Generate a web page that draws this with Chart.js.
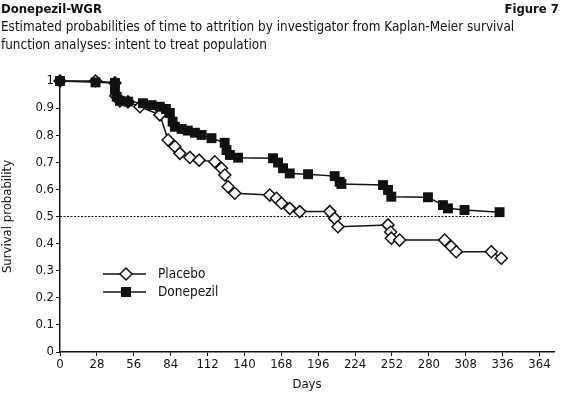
<!DOCTYPE html>
<html>
<head>
<meta charset="utf-8">
<script src="https://cdn.jsdelivr.net/npm/chart.js@4.4.1/dist/chart.umd.min.js"></script>
<style>
  html, body { margin: 0; padding: 0; background: #fff; }
  #wrap { position: relative; width: 562px; height: 393px; overflow: hidden; }
  #wrap canvas { position: absolute; left: 0; top: 0; }
  .hd { position: absolute; font-family: 'Liberation Sans Narrow', 'DejaVu Sans Condensed', sans-serif; color: #111; white-space: nowrap; }
  #t1 { left: 1px; top: 1px; font-size: 13px; font-weight: bold; }
  #t2 { right: 3px; top: 1px; font-size: 13px; font-weight: bold; }
  #sub { left: 1px; top: 18px; font-size: 13.4px; line-height: 18px; }
</style>
</head>
<body>
<div id="wrap">
  <canvas id="c" width="562" height="393"></canvas>
  <div class="hd" id="t1">Donepezil-WGR</div>
  <div class="hd" id="t2">Figure 7</div>
  <div class="hd" id="sub">Estimated probabilities of time to attrition by investigator from Kaplan-Meier survival<br>function analyses: intent to treat population</div>
</div>
<script>
// values
var donepezilDays = [0, 27, 41.7, 41.7, 43, 45.5, 51.8, 63, 69.5, 75.8, 80.4, 83.4, 85.5, 87.2, 92.3, 97, 102.4, 107.5, 115, 125, 126.4, 129, 135.2, 161.7, 165.5, 169.3, 174.4, 188.3, 208.5, 212.3, 213.6, 245.2, 249, 251.5, 279.3, 290.7, 294.5, 307.1, 333.7];
var donepezilSurv = [1, 0.995, 0.993, 0.967, 0.942, 0.927, 0.924, 0.918, 0.911, 0.905, 0.897, 0.882, 0.85, 0.831, 0.823, 0.817, 0.809, 0.801, 0.789, 0.772, 0.745, 0.727, 0.717, 0.715, 0.699, 0.678, 0.659, 0.656, 0.649, 0.628, 0.62, 0.616, 0.598, 0.573, 0.571, 0.542, 0.53, 0.524, 0.516];

var placeboDays = [0, 27, 41.7, 42.5, 45.5, 51.6, 60.7, 75.8, 82.1, 87.2, 91, 98.6, 105.6, 117.5, 122.6, 125.1, 127.6, 132.7, 159.2, 164.3, 168.1, 174.4, 182, 204.8, 208.5, 211, 249, 251, 251.5, 257.8, 292, 297, 300.8, 327.4, 335];
var placeboSurv = [1, 1, 0.993, 0.945, 0.926, 0.923, 0.905, 0.875, 0.782, 0.758, 0.733, 0.718, 0.708, 0.702, 0.678, 0.653, 0.61, 0.586, 0.579, 0.567, 0.549, 0.53, 0.518, 0.518, 0.493, 0.462, 0.469, 0.443, 0.42, 0.413, 0.413, 0.389, 0.37, 0.37, 0.346];

var medianLine = [[0, 0.5], [337, 0.5]];
var xTicks = [0, 28, 56, 84, 112, 140, 168, 196, 224, 252, 280, 308, 336, 364];
var seriesNames = ['Placebo', 'Donepezil'];

var FONT = "'Liberation Sans Narrow', 'DejaVu Sans Condensed', sans-serif";

function toPoints(xs, ys) {
  return xs.map(function (x, i) { return { x: x, y: ys[i] }; });
}

// legend drawn inside the plot, like the printed figure
var insideLegend = {
  id: 'insideLegend',
  afterDatasetsDraw: function (chart) {
    var ctx = chart.ctx;
    var rows = [{ y: 274, style: 'diamond' }, { y: 292, style: 'square' }];
    ctx.save();
    rows.forEach(function (r, i) {
      ctx.strokeStyle = '#111';
      ctx.lineWidth = 1.5;
      ctx.beginPath();
      ctx.moveTo(103, r.y);
      ctx.lineTo(146, r.y);
      ctx.stroke();
      if (r.style === 'diamond') {
        ctx.fillStyle = '#fff';
        ctx.beginPath();
        ctx.moveTo(126 - 6, r.y);
        ctx.lineTo(126, r.y - 6);
        ctx.lineTo(126 + 6, r.y);
        ctx.lineTo(126, r.y + 6);
        ctx.closePath();
        ctx.fill();
        ctx.stroke();
      } else {
        ctx.fillStyle = '#111';
        ctx.fillRect(121, r.y - 5, 10, 10);
      }
      ctx.fillStyle = '#111';
      ctx.font = '13.5px ' + FONT;
      ctx.textBaseline = 'middle';
      ctx.fillText(seriesNames[i], 158, r.y);
    });
    ctx.restore();
  }
};

new Chart(document.getElementById('c'), {
  type: 'scatter',
  data: {
    datasets: [{
      label: 'Donepezil',
      data: toPoints(donepezilDays, donepezilSurv),
      showLine: true,
      borderColor: '#111',
      borderWidth: 1.5,
      pointStyle: 'rect',
      pointRadius: 7,
      pointBackgroundColor: '#111',
      pointBorderColor: '#111',
      pointBorderWidth: 0,
      clip: false,
      order: 1
    }, {
      label: 'Placebo',
      data: toPoints(placeboDays, placeboSurv),
      showLine: true,
      borderColor: '#111',
      borderWidth: 1.5,
      pointStyle: 'rectRot',
      pointRadius: 6,
      pointBackgroundColor: '#fff',
      pointBorderColor: '#111',
      pointBorderWidth: 1.5,
      clip: false,
      order: 2
    }, {
      label: 'median',
      data: medianLine.map(function (p) { return { x: p[0], y: p[1] }; }),
      showLine: true,
      borderColor: '#111',
      borderWidth: 1.2,
      borderDash: [2, 1.5],
      pointRadius: 0,
      order: 3
    }]
  },
  options: {
    responsive: false,
    animation: false,
    layout: { padding: { top: 81, right: 8, bottom: 0, left: 0 } },
    plugins: { legend: { display: false }, tooltip: { enabled: false } },
    scales: {
      x: {
        type: 'linear',
        min: 0,
        max: 375,
        afterBuildTicks: function (s) { s.ticks = xTicks.map(function (v) { return { value: v }; }); },
        afterFit: function (s) { s.height = 41; },
        border: { display: true, color: '#111', width: 1.5 },
        grid: { display: true, drawOnChartArea: false, drawTicks: true, tickLength: 4, color: '#111' },
        ticks: { color: '#111', font: { family: FONT, size: 13 }, padding: 1, maxRotation: 0, autoSkip: false },
        title: { display: true, text: 'Days', color: '#111', font: { family: FONT, size: 13 }, padding: { top: 0, bottom: 1 } }
      },
      y: {
        min: 0,
        max: 1,
        afterFit: function (s) { s.width = 60; },
        border: { display: true, color: '#111', width: 1.5 },
        grid: { display: true, drawOnChartArea: false, drawTicks: true, tickLength: 4, color: '#111' },
        ticks: {
          stepSize: 0.1, color: '#111', font: { family: FONT, size: 13 }, padding: 2,
          callback: function (v) { return String(Math.round(v * 10) / 10); }
        },
        title: { display: true, text: 'Survival probability', color: '#111', font: { family: FONT, size: 13 }, padding: { top: 0, bottom: 4 } }
      }
    }
  },
  plugins: [insideLegend]
});
</script>
</body>
</html>
